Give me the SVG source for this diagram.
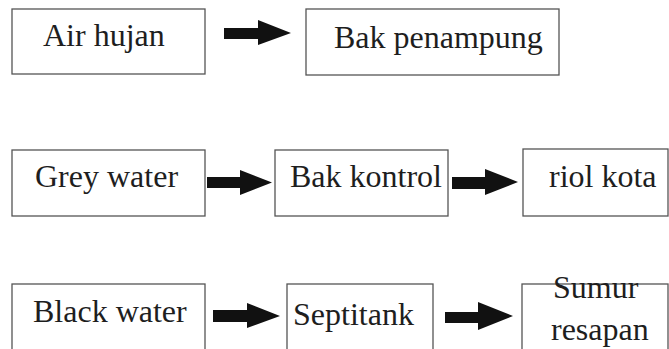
<svg xmlns="http://www.w3.org/2000/svg" width="669" height="349" viewBox="0 0 669 349">
<style>
.box{fill:#fff;stroke:#555;stroke-width:1.3}
.t{font-family:'Liberation Serif','Times New Roman',serif;font-size:32px;fill:#1e1e1e}
.arr{fill:#111}
</style>
<rect width="669" height="349" fill="#fff"/>
<g id="air-hujan"><rect class="box" x="12" y="9" width="193" height="65"/><text class="t" x="43" y="46">Air hujan</text></g>
<g id="bak-penampung"><rect class="box" x="306" y="9" width="253" height="66"/><text class="t" x="334" y="48">Bak penampung</text></g>
<g id="grey-water"><rect class="box" x="12" y="150" width="193" height="66"/><text class="t" x="35" y="187">Grey water</text></g>
<g id="bak-kontrol"><rect class="box" x="275" y="150" width="173" height="66"/><text class="t" x="290" y="187">Bak kontrol</text></g>
<g id="riol-kota"><rect class="box" x="523" y="149" width="145" height="67"/><text class="t" x="549" y="187">riol kota</text></g>
<g id="black-water"><rect class="box" x="12" y="284" width="193" height="80"/><text class="t" x="33" y="322">Black water</text></g>
<g id="septitank"><rect class="box" x="287" y="284" width="146" height="80"/><text class="t" x="293" y="325">Septitank</text></g>
<g id="sumur-resapan"><rect class="box" x="522" y="284" width="146" height="80"/><text class="t" x="553" y="298">Sumur</text><text class="t" x="551" y="340">resapan</text></g>
<g id="connectors">
<polygon class="arr" points="224,28 258,28 258,20 291,33 258,45 258,39 224,39"/>
<polygon class="arr" points="207,177 240,177 240,170 272,182.5 240,195 240,188 207,188"/>
<polygon class="arr" points="452,177 485,177 485,169 518,182 485,195 485,189 452,189"/>
<polygon class="arr" points="213,310 247,310 247,303 280,316 247,328 247,322 213,322"/>
<polygon class="arr" points="445,312 478,312 478,302 513,316 478,330 478,323 445,323"/>
</g>
</svg>
